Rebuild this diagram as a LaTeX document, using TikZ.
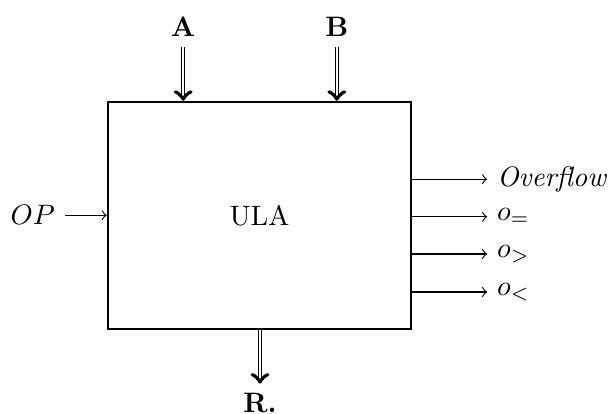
\documentclass[tikz,border=0pt]{standalone}
\usepackage{amsmath,amssymb}
\usetikzlibrary{arrows.meta,positioning}

\begin{document}
\begin{tikzpicture}[>=to,scale=1.0]
  \useasboundingbox (0,0) rectangle (7.65,-5.175);
  \tikzset{bus/.style={double,->},
           sinal/.style={->}}
  \node[draw,thick,minimum width=3.79cm,minimum height=2.84cm] (ula)
        at (3.244,-2.694) {ULA};
  % entradas
  \node[anchor=base] (a) at (2.29,-0.46) {\textbf{A}};
  \node[anchor=base] (b) at (4.21,-0.46) {\textbf{B}};
  \draw[bus] (a) -- (a |- ula.north);
  \draw[bus] (b) -- (b |- ula.north);
  \node (op) at (0.41,-2.69) {$OP$};
  \draw[sinal] (op) -- (op -| ula.west);
  % saidas
  \node[anchor=base] (r) at (3.25,-5.16) {\textbf{R.}};
  \draw[bus] (r |- ula.south) -- (r);
  \node[right] (ovf) at (6.09,-2.24) {\textit{Overflow}};
  \node[right] (oeq) at (6.09,-2.71) {$o_=$};
  \node[right] (ogt) at (6.09,-3.175) {$o_>$};
  \node[right] (olt) at (6.09,-3.65) {$o_<$};
  \draw[sinal] (ovf.west -| ula.east) -- (ovf.west);
  \draw[sinal] (oeq.west -| ula.east) -- (oeq.west);
  \draw[sinal] (ogt.west -| ula.east) -- (ogt.west);
  \draw[sinal] (olt.west -| ula.east) -- (olt.west);
\end{tikzpicture}
\end{document}
